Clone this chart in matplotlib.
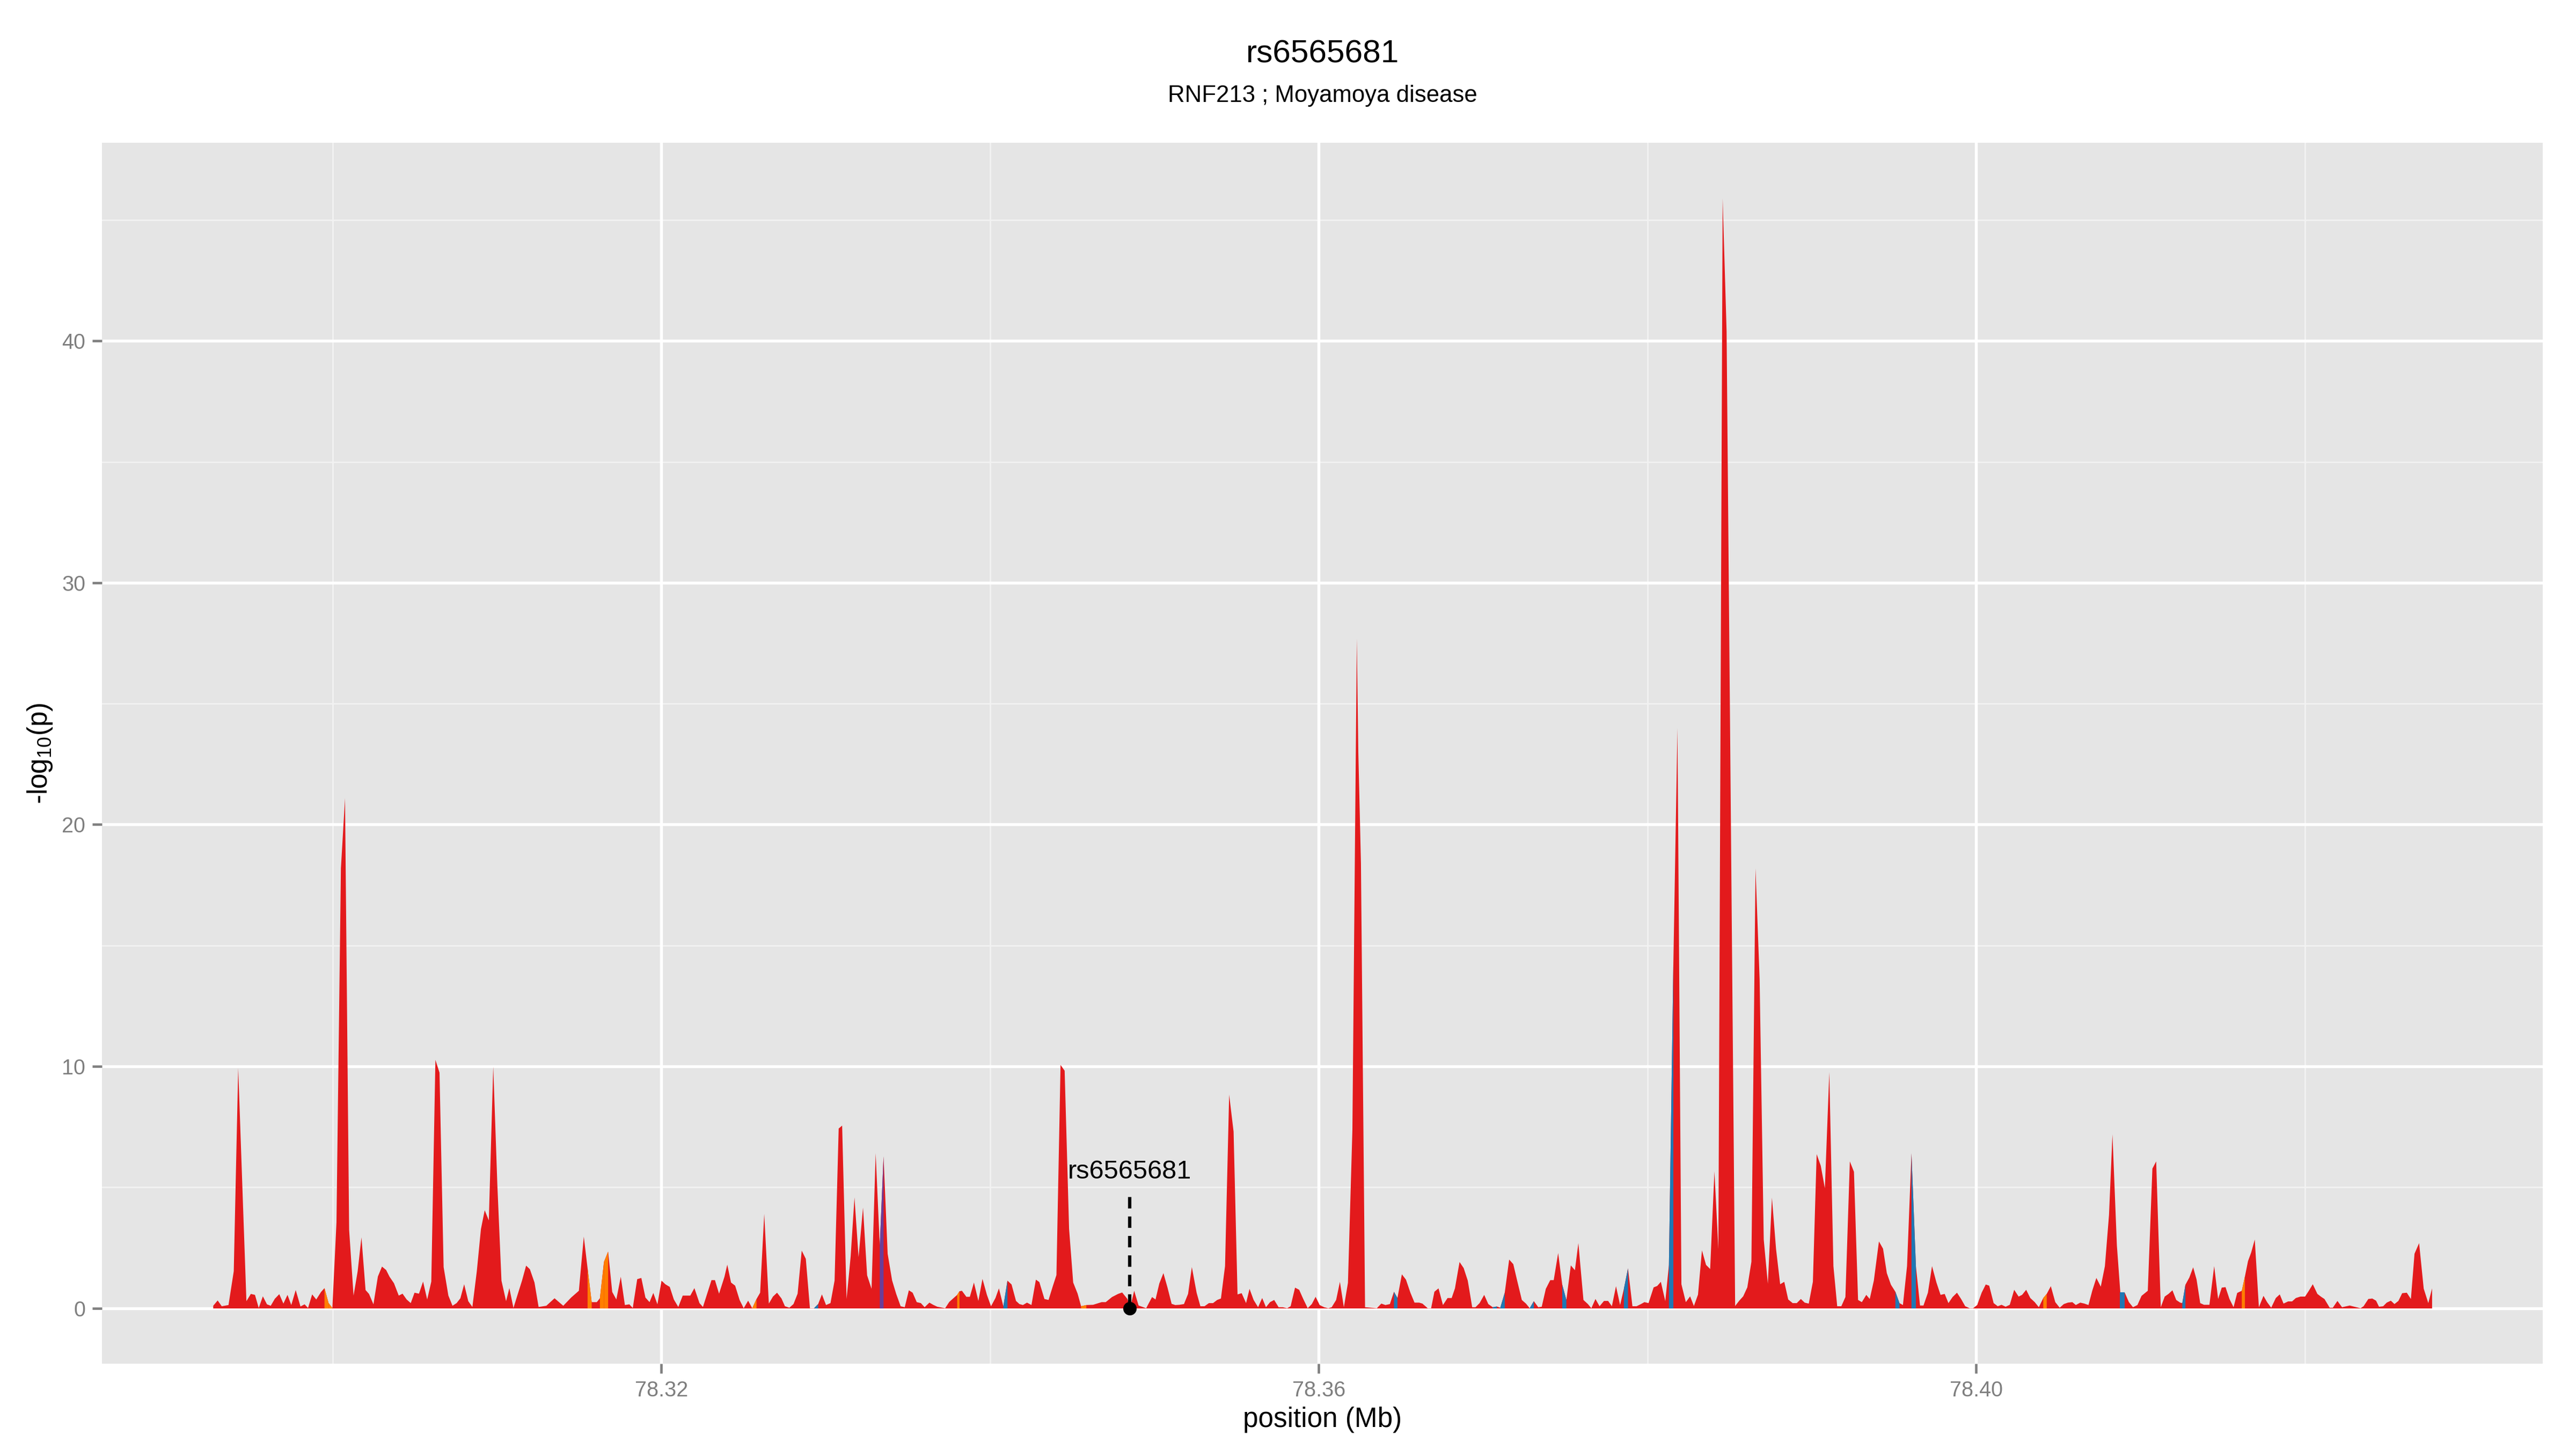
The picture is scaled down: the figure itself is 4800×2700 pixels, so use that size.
import numpy as np
import matplotlib
matplotlib.use("Agg")
import matplotlib.pyplot as plt

plt.rcParams['font.family'] = ['Liberation Sans', 'DejaVu Sans']
plt.rcParams['mathtext.fontset'] = 'custom'
plt.rcParams['mathtext.rm'] = 'Liberation Sans'

# association signal around RNF213 (position in Mb, -log10 p)
pos_mb = [
    78.29271, 78.29298, 78.29323, 78.29364, 78.29396, 78.29423, 78.29448, 78.29473, 78.29500, 78.29525,
    78.29548, 78.29573, 78.29598, 78.29621, 78.29646, 78.29673, 78.29698, 78.29723, 78.29746, 78.29773,
    78.29802, 78.29827, 78.29848, 78.29873, 78.29898, 78.29927, 78.29948, 78.29973, 78.29996, 78.30021,
    78.30048, 78.30073, 78.30098, 78.30125, 78.30150, 78.30173, 78.30198, 78.30219, 78.30246, 78.30273,
    78.30298, 78.30323, 78.30344, 78.30371, 78.30400, 78.30423, 78.30448, 78.30473, 78.30496, 78.30523,
    78.30548, 78.30573, 78.30598, 78.30623, 78.30648, 78.30673, 78.30702, 78.30727, 78.30752, 78.30775,
    78.30798, 78.30823, 78.30848, 78.30875, 78.30900, 78.30923, 78.30948, 78.30975, 78.31000, 78.31025,
    78.31053, 78.31073, 78.31098, 78.31125, 78.31150, 78.31175, 78.31198, 78.31226, 78.31251, 78.31298,
    78.31348, 78.31401, 78.31449, 78.31496, 78.31526, 78.31549, 78.31574, 78.31605, 78.31624, 78.31649,
    78.31674, 78.31699, 78.31724, 78.31751, 78.31776, 78.31803, 78.31824, 78.31851, 78.31876, 78.31901,
    78.31926, 78.31949, 78.31974, 78.31999, 78.32022, 78.32049, 78.32074, 78.32101, 78.32128, 78.32174,
    78.32199, 78.32230, 78.32251, 78.32303, 78.32324, 78.32349, 78.32382, 78.32399, 78.32422, 78.32447,
    78.32474, 78.32499, 78.32526, 78.32551, 78.32577, 78.32599, 78.32624, 78.32652, 78.32677, 78.32702,
    78.32729, 78.32750, 78.32777, 78.32802, 78.32827, 78.32852, 78.32877, 78.32902, 78.32927, 78.32952,
    78.32975, 78.33000, 78.33027, 78.33052, 78.33077, 78.33098, 78.33125, 78.33150, 78.33173, 78.33198,
    78.33225, 78.33250, 78.33277, 78.33302, 78.33327, 78.33350, 78.33375, 78.33402, 78.33427, 78.33454,
    78.33479, 78.33504, 78.33527, 78.33552, 78.33577, 78.33600, 78.33629, 78.33652, 78.33677, 78.33725,
    78.33750, 78.33798, 78.33812, 78.33827, 78.33854, 78.33875, 78.33900, 78.33927, 78.33952, 78.33979,
    78.34004, 78.34031, 78.34052, 78.34079, 78.34104, 78.34129, 78.34156, 78.34177, 78.34198, 78.34223,
    78.34250, 78.34277, 78.34298, 78.34329, 78.34354, 78.34379, 78.34402, 78.34427, 78.34452, 78.34479,
    78.34504, 78.34531, 78.34552, 78.34584, 78.34625, 78.34677, 78.34702, 78.34740, 78.34777, 78.34802,
    78.34834, 78.34850, 78.34875, 78.34902, 78.34948, 78.34984, 78.35005, 78.35028, 78.35053, 78.35078,
    78.35103, 78.35125, 78.35150, 78.35178, 78.35203, 78.35226, 78.35255, 78.35278, 78.35303, 78.35330,
    78.35355, 78.35380, 78.35403, 78.35428, 78.35453, 78.35480, 78.35504, 78.35529, 78.35556, 78.35577,
    78.35602, 78.35629, 78.35654, 78.35677, 78.35702, 78.35727, 78.35754, 78.35779, 78.35806, 78.35827,
    78.35854, 78.35879, 78.35904, 78.35931, 78.35956, 78.35979, 78.36004, 78.36031, 78.36056, 78.36077,
    78.36104, 78.36127, 78.36151, 78.36176, 78.36203, 78.36230, 78.36239, 78.36255, 78.36280, 78.36317,
    78.36352, 78.36379, 78.36404, 78.36431, 78.36456, 78.36477, 78.36504, 78.36529, 78.36556, 78.36581,
    78.36609, 78.36629, 78.36661, 78.36682, 78.36702, 78.36727, 78.36754, 78.36782, 78.36807, 78.36827,
    78.36855, 78.36880, 78.36905, 78.36932, 78.36952, 78.36977, 78.37005, 78.37030, 78.37057, 78.37082,
    78.37103, 78.37130, 78.37157, 78.37182, 78.37207, 78.37234, 78.37259, 78.37282, 78.37307, 78.37334,
    78.37355, 78.37380, 78.37407, 78.37428, 78.37455, 78.37480, 78.37505, 78.37532, 78.37557, 78.37578,
    78.37609, 78.37636, 78.37657, 78.37682, 78.37707, 78.37734, 78.37759, 78.37782, 78.37807, 78.37832,
    78.37855, 78.37880, 78.37907, 78.37932, 78.37959, 78.37980, 78.38005, 78.38036, 78.38058, 78.38080,
    78.38107, 78.38129, 78.38156, 78.38181, 78.38205, 78.38232, 78.38258, 78.38281, 78.38306, 78.38330,
    78.38355, 78.38380, 78.38406, 78.38430, 78.38456, 78.38480, 78.38532, 78.38557, 78.38581, 78.38606,
    78.38631, 78.38656, 78.38681, 78.38706, 78.38731, 78.38756, 78.38781, 78.38806, 78.38831, 78.38855,
    78.38882, 78.38907, 78.38932, 78.38955, 78.38980, 78.39005, 78.39028, 78.39053, 78.39078, 78.39105,
    78.39130, 78.39153, 78.39178, 78.39203, 78.39230, 78.39255, 78.39280, 78.39303, 78.39330, 78.39351,
    78.39376, 78.39407, 78.39432, 78.39455, 78.39480, 78.39507, 78.39532, 78.39553, 78.39578, 78.39605,
    78.39632, 78.39657, 78.39678, 78.39705, 78.39730, 78.39757, 78.39782, 78.39807, 78.39830, 78.39855,
    78.39882, 78.39907, 78.39932, 78.39959, 78.39980, 78.40005, 78.40032, 78.40057, 78.40078, 78.40105,
    78.40130, 78.40153, 78.40178, 78.40203, 78.40230, 78.40257, 78.40278, 78.40303, 78.40328, 78.40355,
    78.40380, 78.40407, 78.40428, 78.40453, 78.40480, 78.40507, 78.40532, 78.40557, 78.40584, 78.40605,
    78.40632, 78.40657, 78.40682, 78.40705, 78.40730, 78.40757, 78.40782, 78.40807, 78.40828, 78.40855,
    78.40876, 78.40903, 78.40928, 78.40953, 78.40980, 78.41005, 78.41043, 78.41071, 78.41094, 78.41122,
    78.41146, 78.41169, 78.41193, 78.41216, 78.41240, 78.41253, 78.41272, 78.41296, 78.41319, 78.41340,
    78.41362, 78.41385, 78.41418, 78.41447, 78.41471, 78.41493, 78.41516, 78.41540, 78.41565, 78.41587,
    78.41615, 78.41634, 78.41653, 78.41672, 78.41694, 78.41719, 78.41747, 78.41769, 78.41794, 78.41822,
    78.41846, 78.41869, 78.41897, 78.41921, 78.41944, 78.41972, 78.42000, 78.42023, 78.42047, 78.42075,
    78.42098, 78.42118, 78.42150, 78.42169, 78.42197, 78.42225, 78.42272, 78.42300, 78.42338, 78.42356,
    78.42385, 78.42409, 78.42432, 78.42450, 78.42475, 78.42497, 78.42522, 78.42544, 78.42568, 78.42591,
    78.42619, 78.42644, 78.42666, 78.42694, 78.42722, 78.42750, 78.42773,
]
logp = [
    0.11, 0.33, 0.09, 0.14, 1.54, 9.94, 5.10, 0.30, 0.60, 0.56,
    0.02, 0.50, 0.17, 0.11, 0.40, 0.59, 0.20, 0.56, 0.14, 0.76,
    0.08, 0.17, 0.02, 0.58, 0.37, 0.68, 0.84, 0.22, 0.02, 3.56,
    18.2, 21.1, 3.25, 0.53, 1.54, 2.94, 0.76, 0.60, 0.17, 1.32,
    1.73, 1.59, 1.31, 1.04, 0.53, 0.61, 0.37, 0.22, 0.65, 0.61,
    1.11, 0.37, 1.11, 10.28, 9.75, 1.71, 0.53, 0.11, 0.22, 0.42,
    1.00, 0.30, 0.06, 1.54, 3.28, 4.06, 3.64, 10.0, 5.10, 1.15,
    0.30, 0.84, 0.02, 0.61, 1.15, 1.77, 1.62, 1.07, 0.06, 0.11,
    0.42, 0.11, 0.45, 0.73, 2.97, 1.66, 0.26, 0.26, 0.42, 1.93,
    2.35, 0.68, 0.37, 1.31, 0.14, 0.17, 0.02, 1.21, 1.26, 0.45,
    0.26, 0.64, 0.17, 1.15, 1.00, 0.89, 0.37, 0.06, 0.53, 0.53,
    0.84, 0.22, 0.06, 1.17, 1.17, 0.61, 1.31, 1.81, 1.07, 0.94,
    0.35, 0.01, 0.32, 0.01, 0.39, 0.65, 3.91, 0.20, 0.49, 0.65,
    0.41, 0.09, 0.03, 0.18, 0.61, 2.39, 2.05, 0.01, 0.01, 0.18,
    0.58, 0.14, 0.22, 1.15, 7.44, 7.56, 0.39, 2.16, 4.59, 2.12,
    4.17, 1.37, 0.81, 6.42, 2.60, 6.29, 2.26, 1.16, 0.60, 0.09,
    0.05, 0.75, 0.65, 0.26, 0.22, 0.05, 0.24, 0.15, 0.07, 0.01,
    0.27, 0.56, 0.71, 0.73, 0.48, 0.48, 1.07, 0.31, 1.22, 0.56,
    0.09, 0.43, 0.83, 0.09, 1.15, 0.99, 0.31, 0.18, 0.14, 0.24,
    0.14, 1.19, 1.09, 0.39, 0.35, 0.90, 1.38, 10.07, 9.83, 3.29,
    1.07, 0.61, 0.09, 0.14, 0.15, 0.26, 0.26, 0.47, 0.60, 0.66,
    0.39, 0.01, 0.73, 0.12, 0.01, 0.47, 0.37, 1.03, 1.46, 0.86,
    0.19, 0.14, 0.15, 0.18, 0.60, 1.71, 0.65, 0.09, 0.09, 0.22,
    0.22, 0.35, 0.41, 1.75, 8.84, 7.31, 0.58, 0.63, 0.22, 0.81,
    0.35, 0.05, 0.43, 0.05, 0.26, 0.35, 0.05, 0.05, 0.01, 0.09,
    0.86, 0.77, 0.39, 0.01, 0.18, 0.48, 0.14, 0.05, 0.01, 0.05,
    0.35, 1.10, 0.05, 1.06, 7.40, 27.7, 23.0, 18.4, 0.05, 0.03,
    0.01, 0.20, 0.14, 0.18, 0.69, 0.43, 1.41, 1.19, 0.65, 0.24,
    0.24, 0.20, 0.01, 0.01, 0.69, 0.83, 0.14, 0.43, 0.43, 0.83,
    1.92, 1.67, 1.15, 0.05, 0.05, 0.22, 0.56, 0.18, 0.05, 0.08,
    0.03, 0.65, 2.02, 1.83, 1.11, 0.35, 0.20, 0.01, 0.30, 0.05,
    0.07, 0.81, 1.17, 1.17, 2.29, 0.98, 0.35, 1.78, 1.58, 2.70,
    0.35, 0.18, 0.01, 0.39, 0.09, 0.31, 0.31, 0.09, 0.92, 0.14,
    0.81, 1.66, 0.09, 0.09, 0.18, 0.26, 0.22, 0.87, 0.93, 1.10,
    0.30, 1.80, 14.25, 24.0, 1.00, 0.26, 0.50, 0.10, 0.57, 2.40,
    1.80, 1.63, 5.67, 2.45, 45.9, 40.4, 0.10, 0.32, 0.50, 0.87,
    1.93, 18.2, 13.6, 2.85, 1.02, 4.58, 2.45, 1.00, 1.10, 0.37,
    0.22, 0.22, 0.39, 0.24, 0.20, 1.10, 6.38, 5.90, 4.97, 9.77,
    1.75, 0.09, 0.09, 0.47, 6.08, 5.65, 0.35, 0.26, 0.56, 0.39,
    1.15, 2.77, 2.47, 1.46, 0.98, 0.69, 0.22, 0.14, 1.75, 6.42,
    1.75, 0.12, 0.12, 0.65, 1.75, 1.07, 0.56, 0.60, 0.22, 0.47,
    0.65, 0.39, 0.09, 0.01, 0.01, 0.14, 0.65, 0.99, 0.94, 0.22,
    0.09, 0.15, 0.07, 0.15, 0.77, 0.49, 0.56, 0.77, 0.43, 0.26,
    0.05, 0.43, 0.60, 0.92, 0.26, 0.03, 0.18, 0.24, 0.26, 0.14,
    0.24, 0.20, 0.14, 0.73, 1.26, 0.90, 1.75, 3.86, 7.20, 2.60,
    0.65, 0.65, 0.26, 0.05, 0.14, 0.52, 0.73, 5.78, 6.08, 0.05,
    0.49, 0.60, 0.75, 0.35, 0.24, 0.22, 0.98, 1.28, 1.70, 1.19,
    0.22, 0.15, 0.15, 1.75, 0.39, 0.86, 0.88, 0.39, 0.05, 0.64,
    0.73, 1.32, 1.96, 2.31, 2.85, 0.05, 0.52, 0.26, 0.03, 0.43,
    0.58, 0.20, 0.29, 0.29, 0.43, 0.49, 0.49, 0.73, 1.00, 0.60,
    0.48, 0.39, 0.03, 0.03, 0.31, 0.05, 0.12, 0.07, 0.01, 0.09,
    0.39, 0.41, 0.32, 0.07, 0.09, 0.24, 0.32, 0.18, 0.31, 0.63,
    0.65, 0.39, 2.26, 2.70, 0.82, 0.22, 0.83,
]

# SNPs whose (left) segment is drawn in another LD colour
blue_pos = [78.32952, 78.34104, 78.36477, 78.37082, 78.37130, 78.37307, 78.37505,
            78.37880, 78.38156, 78.39532, 78.39632, 78.40903, 78.41272]
orange_pos = [78.29973, 78.29996, 78.31574, 78.31649, 78.31674, 78.32577, 78.33812,
              78.34584, 78.40428, 78.41634]
purple_pos = [78.33350]

lead_snp = 'rs6565681'
lead_pos = 78.34850
gene_trait = 'RNF213 ; Moyamoya disease'

x_major = [78.32, 78.36, 78.40]
x_minor = [78.30, 78.34, 78.38, 78.42]
y_major = [0, 10, 20, 30, 40]
y_minor = [5, 15, 25, 35, 45]

red = '#E31A1C'
seg_colors = {'blue': '#1F78B4', 'orange': '#FF7F00', 'purple': '#6A3D9A'}

x = np.array(pos_mb)
y = np.array(logp)

fig = plt.figure(figsize=(16, 9), dpi=300)
ax = fig.add_axes([0.0396, 0.0589, 0.9475, 0.8426])
ax.set_facecolor('#E5E5E5')
for s in ax.spines.values():
    s.set_visible(False)

# grid like ggplot theme_grey
for v in x_minor:
    ax.axvline(v, color='#F2F2F2', lw=0.65, zorder=0)
for v in y_minor:
    ax.axhline(v, color='#F2F2F2', lw=0.65, zorder=0)
for v in x_major:
    ax.axvline(v, color='white', lw=1.3, zorder=0)
for v in y_major:
    ax.axhline(v, color='white', lw=1.3, zorder=0)

ax.fill_between(x, 0, y, color=red, lw=0, zorder=2)

for name, plist in [('blue', blue_pos), ('orange', orange_pos), ('purple', purple_pos)]:
    for p in plist:
        i = int(np.argmin(np.abs(x - p)))
        ax.fill_between(x[i - 1:i + 1], 0, y[i - 1:i + 1], color=seg_colors[name], lw=0, zorder=3)

# lead snp marker and label
ax.plot([lead_pos, lead_pos], [0.1, 4.6], color='black', lw=1.5, dashes=(3.4, 2.4), zorder=4)
ax.plot([lead_pos], [0], 'o', color='black', ms=5, zorder=5)
ax.text(lead_pos, 5.35, lead_snp, ha='center', va='baseline', fontsize=11.7, color='black', zorder=5)

xr = x.max() - x.min()
ax.set_xlim(x.min() - 0.05 * xr, x.max() + 0.05 * xr)
ax.set_ylim(-0.05 * y.max(), 1.05 * y.max())

ax.set_xticks(x_major)
ax.set_xticklabels(['%.2f' % v for v in x_major])
ax.set_yticks(y_major)
ax.tick_params(axis='both', colors='#7F7F7F', length=4.4, width=1.1, labelsize=9.5,
               labelcolor='#7F7F7F', pad=3)

fig.text(0.0156, 0.480, r'-log$_{10}$(p)', rotation=90, ha='center', va='center', fontsize=12.3)
fig.text(0.5134, 0.020, 'position (Mb)', ha='center', va='center', fontsize=12.3)
fig.text(0.5134, 0.9626, lead_snp, ha='center', va='center', fontsize=14.5)
fig.text(0.5134, 0.934, gene_trait, ha='center', va='center', fontsize=10.5)

fig.savefig('out.png', dpi=300, facecolor='white')
